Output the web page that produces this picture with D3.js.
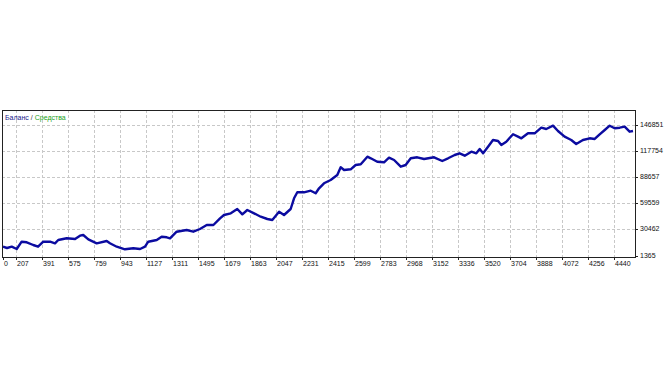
<!DOCTYPE html>
<meta charset="utf-8">
<style>

body { margin: 0; background: #fff; }

svg text { font-family: "Liberation Sans", Arial, sans-serif; font-size: 7px; fill: #111; }

.grid line {
  stroke: #c8c8c8;
  stroke-width: 1;
  stroke-dasharray: 3,2;
  shape-rendering: crispEdges;
}

.frame {
  fill: none;
  stroke: #222;
  stroke-width: 1;
  shape-rendering: crispEdges;
}

.balance {
  fill: none;
  stroke: #0b0ba0;
  stroke-width: 2.4;
  stroke-linejoin: round;
}

</style>
<body>

<script src="https://cdn.jsdelivr.net/npm/d3@7"></script>

<script>

// trade number / balance
var trades = [0, 64, 139, 212, 247, 283, 329, 363, 400, 448, 483, 506, 566, 625, 660, 683, 719, 778, 849, 872,
  920, 978, 1037, 1085, 1120, 1143, 1203, 1238, 1274, 1297, 1344, 1415, 1462, 1509, 1557, 1604, 1651, 1679,
  1727, 1773, 1809, 1844, 1892, 1939, 1986, 2021, 2069, 2104, 2151, 2175, 2198, 2245, 2293, 2328, 2352, 2387,
  2434, 2481, 2505, 2529, 2576, 2611, 2647, 2694, 2718, 2764, 2812, 2847, 2883, 2930, 2965, 3001, 3047, 3095,
  3166, 3224, 3265, 3312, 3347, 3383, 3430, 3465, 3489, 3513, 3548, 3583, 3619, 3642, 3677, 3725, 3760, 3784,
  3831, 3878, 3925, 3960, 4008, 4043, 4090, 4137, 4172, 4220, 4267, 4303, 4338, 4374, 4409, 4444, 4480, 4515,
  4550, 4574];

var balance = [11176, 9727, 11176, 8612, 16751, 16082, 13071, 11176, 16751, 16751, 14967, 18646, 20541, 19761,
  23440, 24220, 19426, 14967, 17531, 14967, 11176, 8277, 9392, 8612, 11176, 16751, 18646, 22325, 21656, 20541,
  27900, 29795, 27900, 30910, 35370, 35370, 42839, 46519, 48414, 53208, 47299, 52093, 48414, 44623, 42059,
  40944, 50198, 46519, 53208, 65137, 71827, 71827, 73611, 70712, 76286, 81861, 85540, 91109, 99699, 96690,
  97470, 102264, 103045, 111517, 109733, 105943, 105274, 110403, 107840, 100368, 102264, 109733, 110848,
  108953, 110848, 106723, 109733, 113412, 115308, 112632, 117092, 115308, 120101, 115308, 122666, 130135,
  129026, 124562, 128241, 136491, 133815, 132031, 137606, 137606, 143849, 142400, 146080, 140170, 133815,
  130135, 125679, 130135, 132031, 131251, 136491, 141285, 146080, 143180, 143849, 144964, 139390, 140170];

var xTicks = [207, 391, 575, 759, 943, 1127, 1311, 1495, 1679, 1863, 2047, 2231, 2415, 2599, 2783, 2968,
  3152, 3336, 3520, 3704, 3888, 4072, 4256, 4440];
var yTicks = [1365, 30462, 59559, 88657, 117754, 146851];

var plotLeft = 2, plotRight = 635, plotTop = 110, plotBottom = 257;

var svg = d3.select("body")
  .append("svg")
    .attr("width", 672)
    .attr("height", 378);

// the first label (0) sits on the left border, the rest follow the grid
var x = d3.scaleLinear()
  .domain([0, 207, 4574])
  .range([3, 16, 633]);

var y = d3.scaleLinear()
  .domain([1365, 146851])
  .range([255.5, 125]);

var grid = svg.append("g").attr("class", "grid");

grid.selectAll(".vx")
  .data(xTicks)
  .enter().append("line")
    .attr("x1", function(d) { return Math.round(x(d)) + 0.5; })
    .attr("x2", function(d) { return Math.round(x(d)) + 0.5; })
    .attr("y1", plotTop)
    .attr("y2", plotBottom);

grid.selectAll(".hy")
  .data(yTicks.slice(1))
  .enter().append("line")
    .attr("x1", plotLeft)
    .attr("x2", plotRight)
    .attr("y1", function(d) { return Math.round(y(d)) + 0.5; })
    .attr("y2", function(d) { return Math.round(y(d)) + 0.5; });

var valueline = d3.line()
  .x(function(d) { return x(d); })
  .y(function(d, i) { return y(balance[i]); });

svg.append("path")
  .datum(trades)
  .attr("class", "balance")
  .attr("d", valueline);

svg.append("rect")
  .attr("class", "frame")
  .attr("x", plotLeft + 0.5)
  .attr("y", plotTop + 0.5)
  .attr("width", plotRight - plotLeft)
  .attr("height", plotBottom - plotTop);

// bottom axis
var xAll = [0].concat(xTicks);
svg.selectAll(".xt")
  .data(xAll)
  .enter().append("line")
    .attr("x1", function(d) { return Math.round(x(d)) + 0.5; })
    .attr("x2", function(d) { return Math.round(x(d)) + 0.5; })
    .attr("y1", plotBottom)
    .attr("y2", plotBottom + 3)
    .attr("stroke", "#222")
    .attr("shape-rendering", "crispEdges");

svg.selectAll(".xl")
  .data(xAll)
  .enter().append("text")
    .attr("x", function(d) { return Math.round(x(d)) + 1; })
    .attr("y", 266)
    .text(function(d) { return d; });

// right axis
svg.selectAll(".yt")
  .data(yTicks)
  .enter().append("line")
    .attr("x1", plotRight)
    .attr("x2", plotRight + 3)
    .attr("y1", function(d) { return Math.round(y(d)) + 0.5; })
    .attr("y2", function(d) { return Math.round(y(d)) + 0.5; })
    .attr("stroke", "#222")
    .attr("shape-rendering", "crispEdges");

svg.selectAll(".yl")
  .data(yTicks)
  .enter().append("text")
    .attr("x", plotRight + 5)
    .attr("y", function(d) { return y(d) + 2; })
    .text(function(d) { return d; });

// legend
var legend = svg.append("text")
  .attr("x", 5)
  .attr("y", 120);
legend.append("tspan").style("fill", "#1a1a8c").text("Баланс");
legend.append("tspan").style("fill", "#333").text(" / ");
legend.append("tspan").style("fill", "#22a322").text("Средства");

</script>
</body>
